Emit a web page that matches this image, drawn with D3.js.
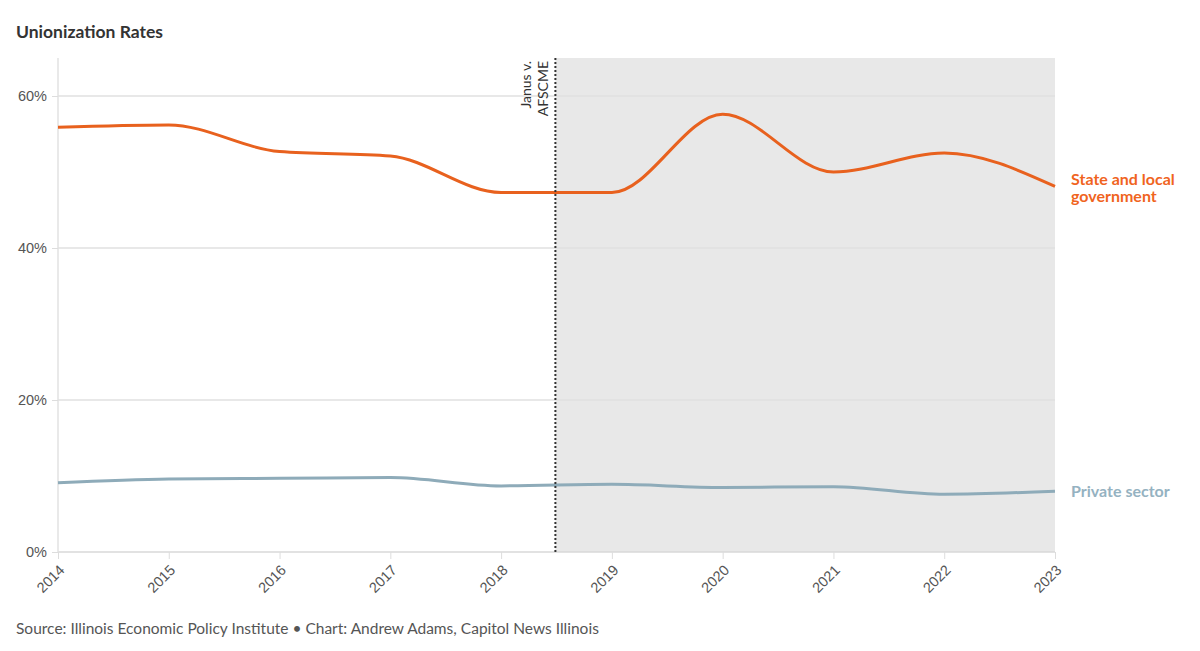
<!DOCTYPE html>
<html>
<head>
<meta charset="utf-8">
<title>Unionization Rates</title>
<script src="https://cdn.jsdelivr.net/npm/d3@7"></script>
<style>
  body { margin: 0; background: #fff; font-family: Lato, "Noto Sans", sans-serif; }
  .title { font-weight: 700; font-size: 17.5px; fill: #333; }
  .tick text { font-size: 14.5px; fill: #555; }
  .source { font-size: 15.5px; fill: #555; }
</style>
</head>
<body>
<script>
// data
var years = [2014, 2015, 2016, 2017, 2018, 2019, 2020, 2021, 2022, 2023];
var stateLocal = [55.9, 56.2, 52.7, 52.1, 47.3, 47.3, 57.6, 50.0, 52.5, 48.1];
var privateSector = [9.1, 9.6, 9.7, 9.8, 8.7, 8.9, 8.5, 8.6, 7.6, 8.0];
var yTicks = [0, 20, 40, 60];
var janusYear = 2018.49;

var W = 1200, H = 651;
var m = {left: 58, right: 145, top: 58, bottom: 99};

var svg = d3.select("body").append("svg")
  .attr("width", W).attr("height", H);

var x = d3.scaleLinear().domain([2014, 2023]).range([m.left, W - m.right]);
var y = d3.scaleLinear().domain([0, 65]).range([H - m.bottom, m.top]);

svg.append("text").attr("class", "title")
  .attr("x", 16).attr("y", 38).text("Unionization Rates");

// shaded post-Janus area
svg.append("rect")
  .attr("x", x(janusYear)).attr("y", y(65))
  .attr("width", x(2023) - x(janusYear))
  .attr("height", y(0) - y(65))
  .attr("fill", "#e8e8e8");

// grid
svg.selectAll("line.grid").data(yTicks).enter().append("line")
  .attr("class", "grid")
  .attr("x1", x(2014)).attr("x2", x(2023))
  .attr("y1", function(d) { return y(d); })
  .attr("y2", function(d) { return y(d); })
  .attr("stroke", function(d) { return d == 0 ? "#d8d8d8" : "#e0e0e0"; })
  .attr("stroke-width", 1.5);

svg.append("line")
  .attr("x1", x(2014)).attr("x2", x(2014))
  .attr("y1", y(65)).attr("y2", y(0))
  .attr("stroke", "#e2e2e2").attr("stroke-width", 1.5);

// y axis
var yAxis = svg.append("g")
  .attr("transform", "translate(" + x(2014) + ",0)")
  .call(d3.axisLeft(y).tickValues(yTicks).tickSize(6).tickFormat(function(d) { return d + "%"; }));
yAxis.select(".domain").remove();
yAxis.selectAll(".tick line").attr("stroke", "#ddd");
yAxis.selectAll(".tick text").attr("x", -11);

// x axis
var xAxis = svg.append("g")
  .attr("transform", "translate(0," + y(0) + ")")
  .call(d3.axisBottom(x).tickValues(years).tickSize(7).tickFormat(d3.format("d")));
xAxis.select(".domain").remove();
xAxis.selectAll(".tick line").attr("stroke", "#ddd");
xAxis.selectAll(".tick text")
  .attr("text-anchor", "end")
  .attr("dy", 0)
  .attr("transform", "translate(7,19) rotate(-45)")
  .attr("y", 0).attr("x", 0);

// lines
var line = d3.line()
  .x(function(d, i) { return x(years[i]); })
  .y(function(d) { return y(d); })
  .curve(d3.curveMonotoneX);

svg.append("path").datum(privateSector)
  .attr("d", line).attr("fill", "none")
  .attr("stroke", "#8eabb9").attr("stroke-width", 3);

svg.append("path").datum(stateLocal)
  .attr("d", line).attr("fill", "none")
  .attr("stroke", "#e8611e").attr("stroke-width", 3);

// Janus line
svg.append("line")
  .attr("x1", x(janusYear)).attr("x2", x(janusYear))
  .attr("y1", y(65)).attr("y2", y(0))
  .attr("stroke", "#333").attr("stroke-width", 2)
  .attr("stroke-dasharray", "2,2");

var jl = svg.append("text")
  .attr("transform", "translate(" + (x(janusYear) - 6) + "," + (y(65) + 3) + ") rotate(-90)")
  .attr("text-anchor", "end")
  .attr("font-size", 14).attr("fill", "#333");
jl.append("tspan").attr("x", 0).attr("y", -18).text("Janus v.");
jl.append("tspan").attr("x", 0).attr("y", -1).text("AFSCME");

// labels
var sl = svg.append("text")
  .attr("font-size", 16).attr("font-weight", 700).attr("fill", "#f0641e");
sl.append("tspan").attr("x", 1071).attr("y", y(stateLocal[9]) - 1).text("State and local");
sl.append("tspan").attr("x", 1071).attr("y", y(stateLocal[9]) + 16).text("government");

svg.append("text")
  .attr("x", 1071).attr("y", y(privateSector[9]) + 6)
  .attr("font-size", 16).attr("font-weight", 700).attr("fill", "#95b2c1")
  .text("Private sector");

svg.append("text").attr("class", "source")
  .attr("x", 16).attr("y", 634)
  .text("Source: Illinois Economic Policy Institute \u2022 Chart: Andrew Adams, Capitol News Illinois");
</script>
</body>
</html>
